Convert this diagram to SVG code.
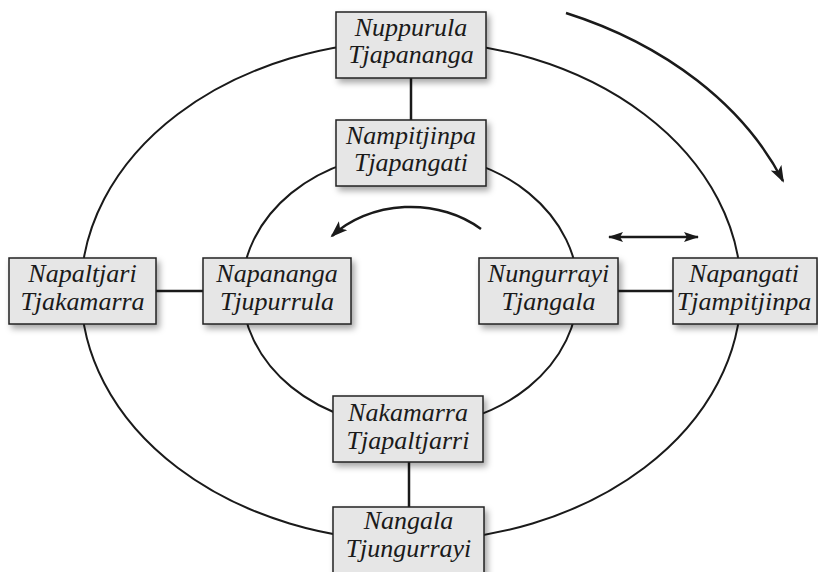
<svg xmlns="http://www.w3.org/2000/svg" width="818" height="572" viewBox="0 0 818 572">
<defs>
<filter id="sh" x="-10%" y="-10%" width="130%" height="140%">
<feDropShadow dx="3" dy="4" stdDeviation="3" flood-color="#000" flood-opacity="0.35"/>
</filter>
<marker id="ah" markerUnits="userSpaceOnUse" markerWidth="18" markerHeight="14" viewBox="0 0 18 14" refX="15" refY="7" orient="auto">
<path d="M0,1 L17,7 L0,13 L4,7 z" fill="#1a1a1a"/>
</marker>
<marker id="ah2" markerUnits="userSpaceOnUse" markerWidth="16" markerHeight="12" viewBox="0 0 16 12" refX="14" refY="6" orient="auto-start-reverse">
<path d="M0,1 L15,6 L0,11 L3,6 z" fill="#1a1a1a"/>
</marker>
</defs>
<g id="connectors" fill="none" stroke="#1a1a1a" stroke-width="2.5">
<ellipse cx="411" cy="291" rx="330" ry="250" stroke-width="2"/>
<ellipse cx="410" cy="290" rx="168" ry="137" stroke-width="2"/>
<line x1="411" y1="78" x2="411" y2="120"/>
<line x1="409" y1="462" x2="409" y2="507"/>
<line x1="156" y1="291" x2="203" y2="291"/>
<line x1="618" y1="291" x2="673" y2="291"/>
<path d="M566 13 A398 302 0 0 1 783 181" marker-end="url(#ah)"/>
<path d="M481 229 A104 84 0 0 0 332 236" marker-end="url(#ah)"/>
<line x1="609" y1="237" x2="698" y2="237" marker-start="url(#ah2)" marker-end="url(#ah2)"/>
</g>
<g id="nodes" font-family="Liberation Serif" font-style="italic" font-size="26" text-anchor="middle">
<g id="n1"><rect x="336" y="12" width="150" height="66" fill="#e6e6e6" stroke="#222" stroke-width="1.5" filter="url(#sh)"/><text x="411" y="36" fill="#1a1a1a">Nuppurula</text><text x="411" y="63" fill="#1a1a1a">Tjapananga</text></g>
<g id="n2"><rect x="336" y="120" width="150" height="66" fill="#e6e6e6" stroke="#222" stroke-width="1.5" filter="url(#sh)"/><text x="411" y="144" fill="#1a1a1a">Nampitjinpa</text><text x="411" y="171" fill="#1a1a1a">Tjapangati</text></g>
<g id="n3"><rect x="9" y="258" width="147" height="66" fill="#e6e6e6" stroke="#222" stroke-width="1.5" filter="url(#sh)"/><text x="82.5" y="282" fill="#1a1a1a">Napaltjari</text><text x="82.5" y="310" fill="#1a1a1a">Tjakamarra</text></g>
<g id="n4"><rect x="203" y="258" width="148" height="66" fill="#e6e6e6" stroke="#222" stroke-width="1.5" filter="url(#sh)"/><text x="277" y="282" fill="#1a1a1a">Napananga</text><text x="277" y="310" fill="#1a1a1a">Tjupurrula</text></g>
<g id="n5"><rect x="479" y="258" width="139" height="66" fill="#e6e6e6" stroke="#222" stroke-width="1.5" filter="url(#sh)"/><text x="548.5" y="282" fill="#1a1a1a">Nungurrayi</text><text x="548.5" y="310" fill="#1a1a1a">Tjangala</text></g>
<g id="n6"><rect x="673" y="258" width="144" height="66" fill="#e6e6e6" stroke="#222" stroke-width="1.5" filter="url(#sh)"/><text x="744" y="282" fill="#1a1a1a">Napangati</text><text x="744" y="310" fill="#1a1a1a">Tjampitjinpa</text></g>
<g id="n7"><rect x="333" y="396" width="150" height="66" fill="#e6e6e6" stroke="#222" stroke-width="1.5" filter="url(#sh)"/><text x="408" y="421" fill="#1a1a1a">Nakamarra</text><text x="408" y="449" fill="#1a1a1a">Tjapaltjarri</text></g>
<g id="n8"><rect x="333" y="507" width="151" height="68" fill="#e6e6e6" stroke="#222" stroke-width="1.5" filter="url(#sh)"/><text x="408.5" y="529" fill="#1a1a1a">Nangala</text><text x="408.5" y="557" fill="#1a1a1a">Tjungurrayi</text></g>
</g>
</svg>
